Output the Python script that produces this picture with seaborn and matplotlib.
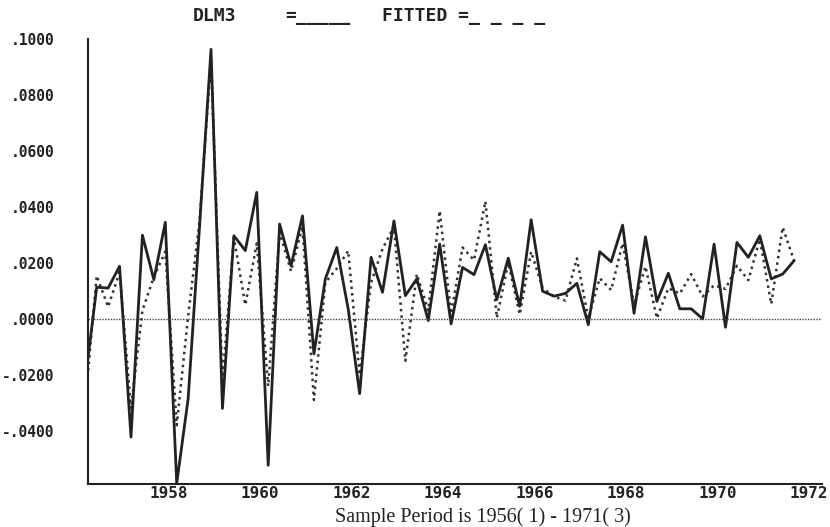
import numpy as np
import pandas as pd
import seaborn as sns
import matplotlib.pyplot as plt
import matplotlib.transforms as mtransforms
from matplotlib.ticker import MultipleLocator

# quarterly sample 1956(1) - 1971(3), 63 observations

start_year = 1956

dlm3 = [-0.0220, 0.0113, 0.0110, 0.0188, -0.0422, 0.0299, 0.0140, 0.0345,
        -0.0588, -0.0285, 0.0333, 0.0963, -0.0320, 0.0297, 0.0244, 0.0452,
        -0.0523, 0.0339, 0.0190, 0.0368, -0.0125, 0.0143, 0.0255, 0.0035,
        -0.0267, 0.0220, 0.0095, 0.0350, 0.0083, 0.0143, -0.0006, 0.0267,
        -0.0018, 0.0184, 0.0158, 0.0265, 0.0069, 0.0217, 0.0045, 0.0354,
        0.0099, 0.0081, 0.0091, 0.0127, -0.0021, 0.0240, 0.0204, 0.0335,
        0.0020, 0.0293, 0.0062, 0.0163, 0.0036, 0.0036, 0.0000, 0.0267,
        -0.0030, 0.0273, 0.0220, 0.0297, 0.0143, 0.0160, 0.0208]

fitted = [-0.0300, 0.0154, 0.0043, 0.0167, -0.0320, 0.0030, 0.0150, 0.0240,
          -0.0380, 0.0010, 0.0350, 0.0930, -0.0220, 0.0290, 0.0050, 0.0270,
          -0.0240, 0.0310, 0.0170, 0.0330, -0.0290, 0.0130, 0.0180, 0.0243,
          -0.0200, 0.0130, 0.0250, 0.0330, -0.0150, 0.0160, 0.0030, 0.0386,
          0.0018, 0.0255, 0.0210, 0.0420, 0.0004, 0.0200, 0.0016, 0.0240,
          0.0110, 0.0080, 0.0065, 0.0216, 0.0002, 0.0145, 0.0103, 0.0270,
          0.0050, 0.0187, 0.0002, 0.0110, 0.0090, 0.0160, 0.0080, 0.0120,
          0.0107, 0.0190, 0.0138, 0.0285, 0.0053, 0.0327, 0.0208]

ytick_vals = [-0.04, -0.02, 0.0, 0.02, 0.04, 0.06, 0.08, 0.10]
ytick_labels = ['-.0400', '-.0200', '.0000', '.0200', '.0400', '.0600', '.0800', '.1000']
xtick_years = [1958, 1960, 1962, 1964, 1966, 1968, 1970, 1972]
xtick_labels = [str(y) for y in xtick_years]

df = pd.DataFrame({'DLM3': dlm3, 'FITTED': fitted})
df['t'] = start_year + np.arange(len(df)) / 4
# the printer put the points a little ahead of the year ticks
df['x'] = df['t'] - 0.11

sns.set_style('white')

fig = plt.figure(figsize=(8.3, 5.27), dpi=100)
ax = fig.add_axes([88/830, 43/527, 734/830, 445/527])

sns.lineplot(data=df, x='x', y='FITTED', ax=ax, color='#333333', lw=1.8,
             ls=(0, (1, 1.6)))
sns.lineplot(data=df, x='x', y='DLM3', ax=ax, color='#222222', lw=2.0)
ax.axhline(0, color='#444444', lw=1.0, ls=(0, (1, 1)))

ax.set_xlim(1955.95, 1972.0)
ax.set_ylim(-0.059, 0.10)

for s in ['top', 'right']:
    ax.spines[s].set_visible(False)
for s in ['left', 'bottom']:
    ax.spines[s].set_color('#222222')
    ax.spines[s].set_linewidth(1.5)

ax.set_yticks(ytick_vals, ytick_labels)
ax.yaxis.set_minor_locator(MultipleLocator(0.01))
ax.set_xticks(xtick_years, xtick_labels)
ax.xaxis.set_minor_locator(MultipleLocator(1))

ax.tick_params(axis='both', which='both', direction='in', color='#222222', width=1.3)
ax.tick_params(axis='y', which='major', length=5, pad=24)
ax.tick_params(axis='y', which='minor', length=5)
ax.tick_params(axis='x', which='major', length=7, pad=1.5)
ax.tick_params(axis='x', which='minor', length=4)

for lbl in ax.get_yticklabels():
    lbl.set_family('DejaVu Sans Mono')
    lbl.set_weight('bold')
    lbl.set_size(10.5)
    lbl.set_color('#222222')

shift = mtransforms.ScaledTranslation(6/100, 0, fig.dpi_scale_trans)
for lbl in ax.get_xticklabels():
    lbl.set_family('DejaVu Sans Mono')
    lbl.set_weight('bold')
    lbl.set_size(11.5)
    lbl.set_color('#222222')
    lbl.set_ha('right')
    lbl.set_transform(lbl.get_transform() + shift)

ax.set_xlabel('')
ax.set_ylabel('')

hdr = dict(family='DejaVu Sans Mono', weight='bold', size=13, color='#222222', va='center')
fig.text(193/830, 1 - 16/527, 'DLM3', **hdr)
fig.text(285/830, 1 - 16/527, '=_____', **hdr)
fig.text(382/830, 1 - 16/527, 'FITTED =_ _ _ _', **hdr)

fig.text(483/830, 1 - 517/527, 'Sample Period is 1956( 1) - 1971( 3)',
         family='Liberation Serif', size=14.5, color='#222222', ha='center', va='center')

fig.savefig('out.png', dpi=100)
